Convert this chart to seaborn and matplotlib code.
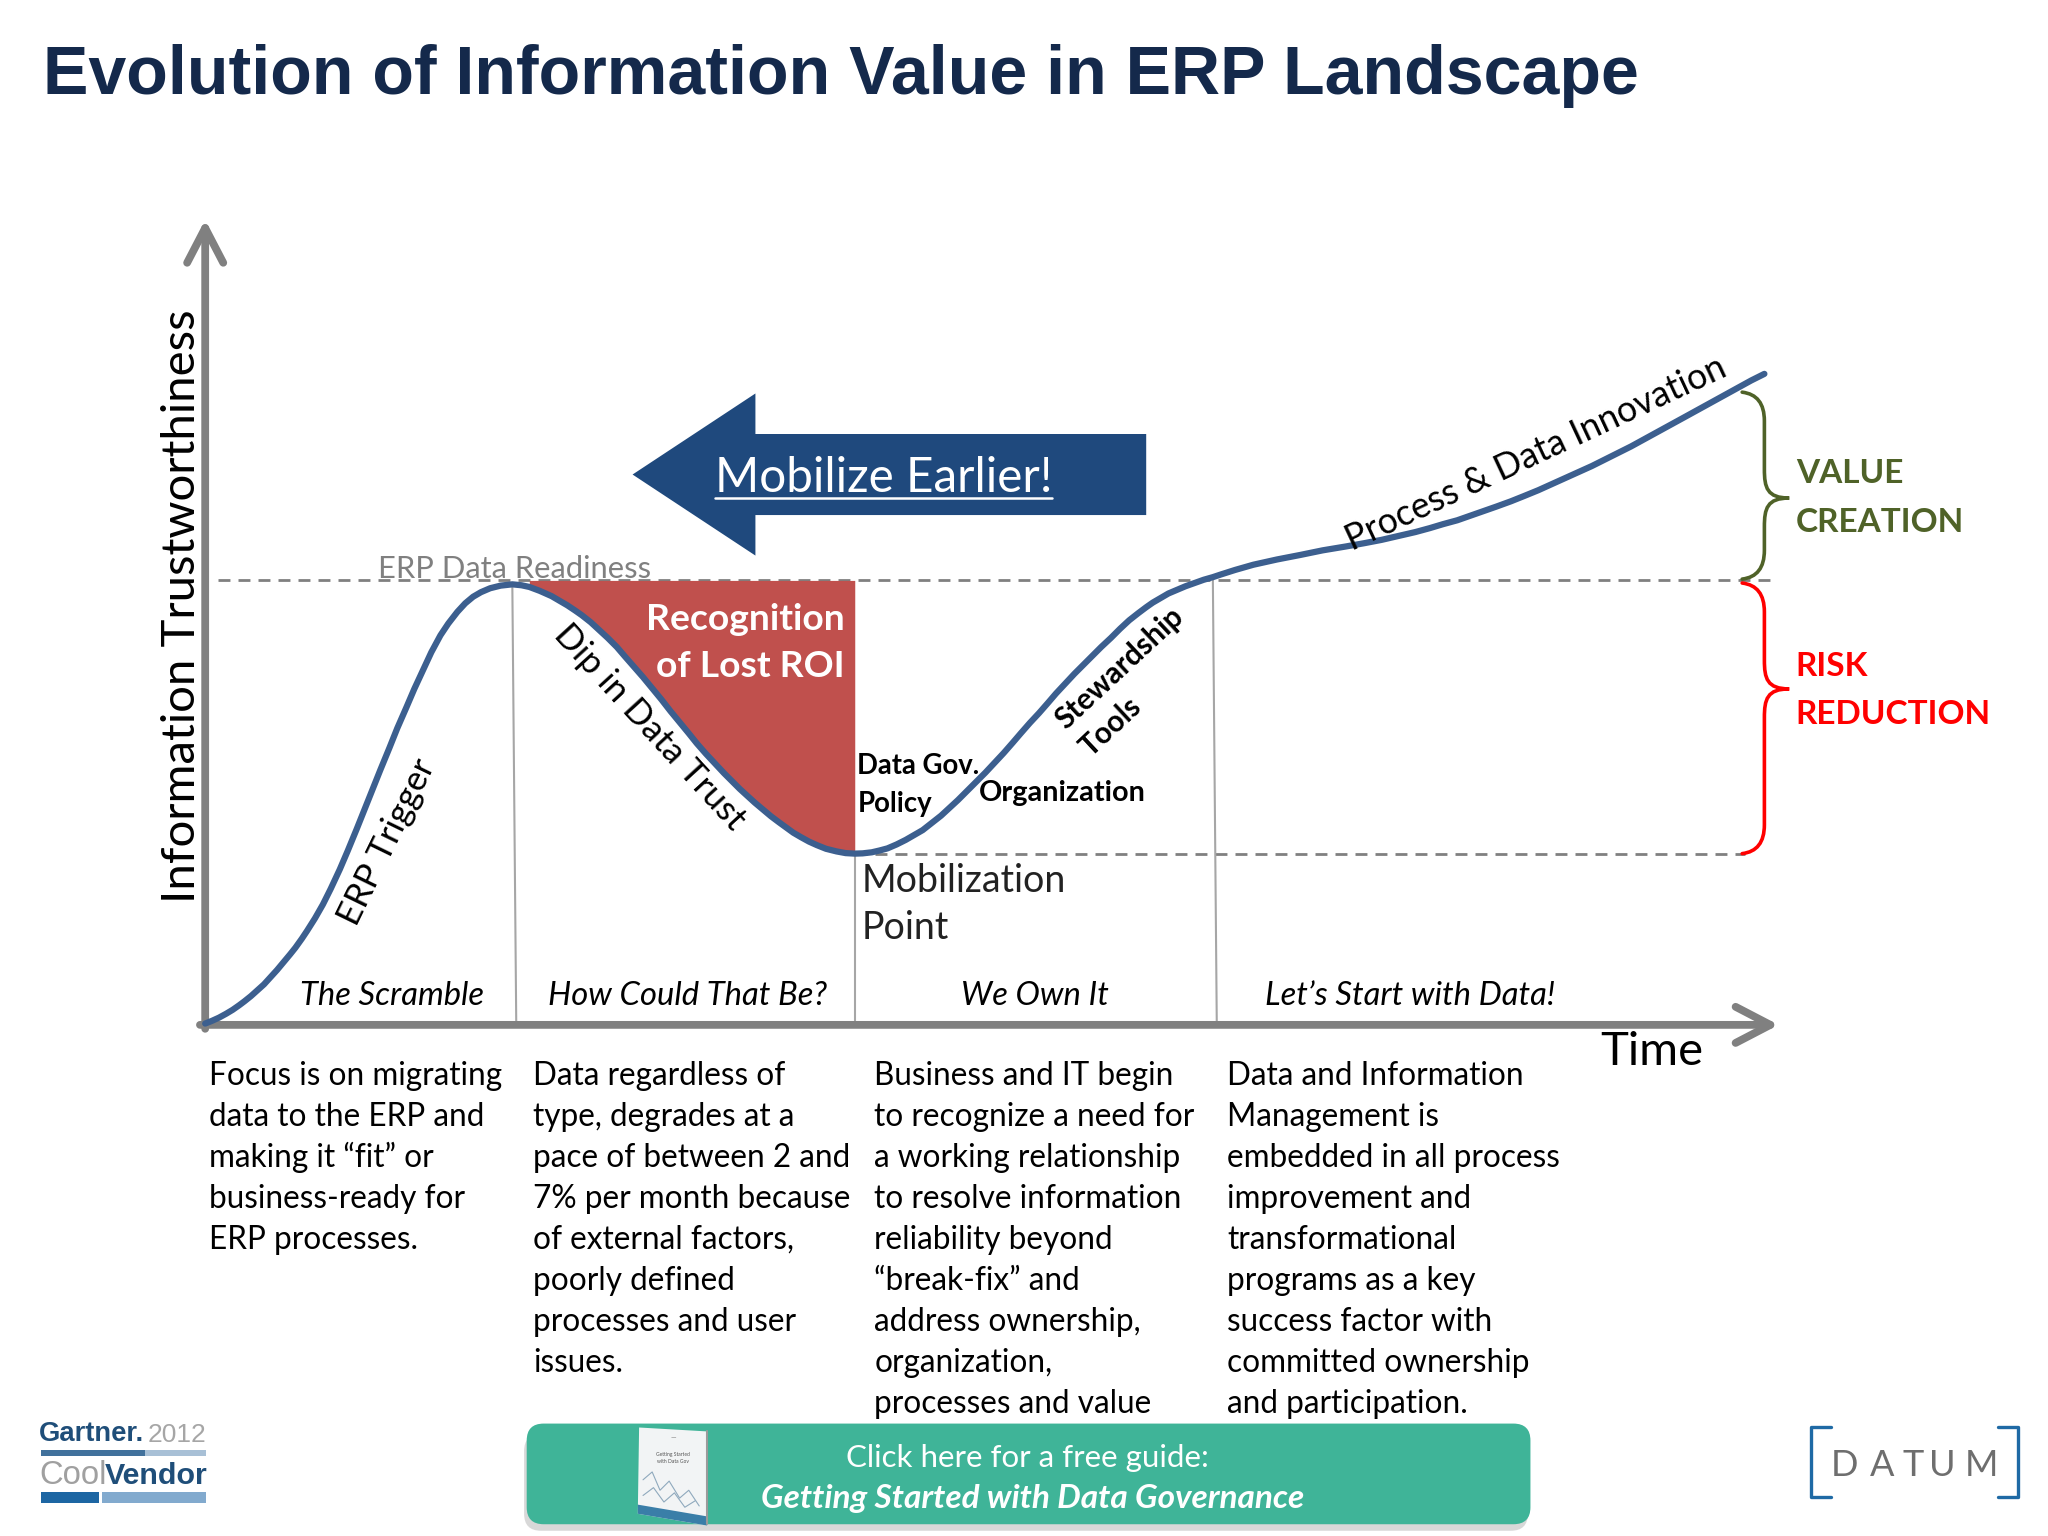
# erp_information_value.py

import matplotlib
matplotlib.use("Agg")
import matplotlib.pyplot as plt
import pandas as pd
import seaborn as sns
from matplotlib.patches import FancyBboxPatch, PathPatch, Polygon, Rectangle
from matplotlib.path import Path

# -----------------------------
# Curve data
# -----------------------------
curve_time = [157, 162, 167.5, 173, 178, 183, 187, 192, 197, 202, 207, 212, 217, 222, 226, 231, 235, 241, 247, 253, 260,
              266, 273, 279, 285, 291, 298, 304, 311, 317, 324, 330, 337, 343, 350, 356, 362, 368, 375, 383, 392,
              399, 405, 413, 422, 428, 434, 440, 445, 452, 458, 465, 472, 478, 485, 492, 499, 506, 513, 520, 527,
              533, 540, 547, 554, 560, 566, 572, 577.5, 584, 590, 596, 601.5, 607, 613, 619, 625, 632, 640, 647, 654,
              660, 667, 673, 679, 686, 693, 699, 706, 713, 720, 726, 733, 740, 747, 754, 761, 768, 775, 781, 788,
              795, 802, 808, 815.5, 822, 829, 836, 842.5, 850, 857, 864, 871, 877, 882, 888, 894, 900, 907, 914, 921,
              928, 934, 945, 959, 977, 995, 1012, 1030, 1044, 1057, 1070, 1083, 1094, 1104, 1115, 1125, 1135, 1145,
              1156, 1166, 1177, 1187, 1197, 1207, 1218, 1228, 1238, 1248, 1259, 1269, 1280, 1290, 1300, 1311, 1321, 1331, 1340, 1350]
curve_trust = [783, 781, 778.5, 775.5, 772.5, 769, 766, 762, 757.5, 753, 747.5, 742, 736, 730, 725, 718, 712, 702.5, 692, 680, 665,
               651, 634, 619, 604, 589, 572, 557, 541, 527, 512, 499, 486, 477, 468, 461.5, 456.5, 453, 450, 448, 447,
               447.7, 449, 452, 456, 459.5, 463, 467, 470.5, 476, 481.5, 488, 495, 502, 510, 518, 526.5, 535, 544, 552.5, 561,
               568.5, 576.5, 584, 591.5, 597.5, 603.5, 609, 614, 619.5, 624.5, 629, 633, 637, 640.5, 643.8, 646.5, 649.3, 651.3, 652.6, 653,
               652.8, 652, 650.6, 649, 646, 642.5, 639, 635, 629.5, 624, 618.5, 612, 605, 598, 591, 583.5, 576, 568, 561, 553,
               545.5, 537.5, 530.5, 522.5, 515.5, 508.5, 501.5, 495, 488, 481, 474.5, 469, 464.5, 461, 457.5, 454, 451.5, 448.5, 446, 443.5,
               441.5, 439.5, 436, 432, 428, 424.5, 421, 418, 415.5, 413, 410, 407, 404, 401, 398, 394.5, 391, 387.5,
               383.5, 379.5, 375, 370.5, 366, 361.5, 356.5, 351.5, 346.5, 341.5, 335.5, 330, 324, 318.5, 313, 307, 301.5, 296, 291, 286]

readiness_level = 444
mobilization_level = 653
phase_tops = [447, 653, 443]
phase_x_top = [392, 654, 928]
phase_x_bottom = [395, 654, 931]

# -----------------------------
# Text
# -----------------------------
title = "Evolution of Information Value in ERP Landscape"
phase_names = ["The Scramble", "How Could That Be?", "We Own It", "Let\u2019s Start with Data!"]
phase_name_x = [300, 526, 792, 1079]
column_x = [160, 408, 669, 939]
column_lines = [
    ["Focus is on migrating", "data to the ERP and", "making it \u201cfit\u201d or", "business-ready for", "ERP processes."],
    ["Data regardless of", "type, degrades at a", "pace of between 2 and", "7% per month because", "of external factors,",
     "poorly defined", "processes and user", "issues."],
    ["Business and IT begin", "to recognize a need for", "a working relationship", "to resolve information", "reliability beyond",
     "\u201cbreak-fix\u201d and", "address ownership,", "organization,", "processes and value"],
    ["Data and Information", "Management is", "embedded in all process", "improvement and", "transformational",
     "programs as a key", "success factor with", "committed ownership", "and participation."],
]

BLUE = "#3c5f8f"
GREY = "#808080"
NAVY = "#1f497d"
OLIVE = "#4f6228"
RED = "#ff0000"
MAROON = "#c0504d"
TEAL = "#3fb498"

# -----------------------------
# Canvas, axes run in picture units
# -----------------------------
sns.set_theme(style="white")
plt.rcParams["font.family"] = ["Lato", "DejaVu Sans"]

fig = plt.figure(figsize=(20.48, 15.36), dpi=100)
ax = fig.add_axes([0, 0, 1, 1])

ax.text(33, 58, title, family="Liberation Sans", weight="bold", fontsize=49.1, color="#14294b", va="center")

# -----------------------------
# Guide lines and axes
# -----------------------------
ax.plot([167, 1358], [readiness_level, readiness_level], color=GREY, lw=2, ls=(0, (4.3, 2.9)), zorder=1)
ax.plot([654, 1335], [mobilization_level, mobilization_level], color=GREY, lw=2, ls=(0, (4.3, 2.9)), zorder=1)
for x0, x1, top in zip(phase_x_top, phase_x_bottom, phase_tops):
    ax.plot([x0, x1], [top, 783], color="#a6a6a6", lw=1.5, zorder=1)

axis_arrow = dict(arrowstyle="->,head_length=1.25,head_width=0.65", mutation_scale=20, color=GREY, lw=5.6,
                  shrinkA=0, shrinkB=0, capstyle="round")
ax.annotate("", xy=(157, 168), xytext=(157, 787), zorder=2, arrowprops=axis_arrow)
ax.annotate("", xy=(1361, 784), xytext=(153, 784), zorder=2, arrowprops=axis_arrow)

# -----------------------------
# Curve and wedge
# -----------------------------
curve = pd.DataFrame({"time": curve_time, "trust": curve_trust})
wedge = curve[(curve["time"] >= 405) & (curve["time"] <= 654)]
ax.fill_between(wedge["time"], wedge["trust"], readiness_level, color=MAROON, lw=0, zorder=2)
sns.lineplot(data=curve, x="time", y="trust", ax=ax, sort=False, estimator=None, color=BLUE, lw=4.5,
             solid_joinstyle="round", zorder=3, legend=False)
ax.set_xlim(0, 1567)
ax.set_ylim(1175, 0)
ax.axis("off")

# -----------------------------
# Mobilize arrow
# -----------------------------
ax.add_patch(Polygon([(484, 363), (578, 301), (578, 332), (877, 332), (877, 394), (578, 394), (578, 425)],
                     closed=True, color=NAVY, lw=0, zorder=2))
ax.text(676, 366, "Mobilize Earlier!", color="white", fontsize=34.3, ha="center", va="center", zorder=4)
ax.plot([547, 805], [381, 381], color="white", lw=1.8, zorder=4)

# -----------------------------
# Braces
# -----------------------------
def brace(y0, y_mid, y1, color):
    x0, xs, xt = 1333, 1350, 1369
    verts = [(x0, y0), (xs, y0 + 2), (xs, y0 + 22), (xs, y_mid - 22), (xs, y_mid - 8), (xs + 2, y_mid), (xt, y_mid),
             (xs + 2, y_mid), (xs, y_mid + 8), (xs, y_mid + 22), (xs, y1 - 22), (xs, y1 - 2), (x0, y1)]
    codes = [Path.MOVETO, Path.CURVE3, Path.CURVE3, Path.LINETO, Path.CURVE4, Path.CURVE4, Path.CURVE4,
             Path.CURVE4, Path.CURVE4, Path.CURVE4, Path.LINETO, Path.CURVE3, Path.CURVE3]
    ax.add_patch(PathPatch(Path(verts, codes), fill=False, edgecolor=color, lw=2.6, zorder=3, capstyle="round"))

brace(300, 381, 443, OLIVE)
brace(446, 527, 653, RED)

ax.text(1374, 362.5, "VALUE", color=OLIVE, weight="bold", fontsize=24, va="center")
ax.text(1374, 399.5, "CREATION", color=OLIVE, weight="bold", fontsize=24, va="center")
ax.text(1374, 509.5, "RISK", color=RED, weight="bold", fontsize=24, va="center")
ax.text(1374, 546.5, "REDUCTION", color=RED, weight="bold", fontsize=24, va="center")

# -----------------------------
# Labels on the chart
# -----------------------------
ax.text(139, 464, "Information Trustworthiness", rotation=90, fontsize=34, color="black", ha="center", va="center")
ax.text(1264, 805, "Time", fontsize=34, color="black", ha="center", va="center")
ax.text(394, 435.5, "ERP Data Readiness", color=GREY, fontsize=22.2, ha="center", va="center")

ax.text(296, 644, "ERP Trigger", rotation=64, fontsize=25, ha="center", va="center", rotation_mode="anchor", color="black")
ax.text(497, 556, "Dip in Data Trust", rotation=-47.5, fontsize=25.4, ha="center", va="center", rotation_mode="anchor", color="black")
ax.text(1175, 347, "Process & Data Innovation", rotation=25, fontsize=25.6, ha="center", va="center", rotation_mode="anchor", color="black")
ax.text(857, 511, "Stewardship", rotation=43, fontsize=21.3, weight="bold", ha="center", va="center", rotation_mode="anchor", color="black")
ax.text(850, 556, "Tools", rotation=43, fontsize=21.3, weight="bold", ha="center", va="center", rotation_mode="anchor", color="black")

ax.text(646, 474, "Recognition", color="white", weight="bold", fontsize=26.8, ha="right", va="center", zorder=4)
ax.text(646, 510, "of Lost ROI", color="white", weight="bold", fontsize=26.8, ha="right", va="center", zorder=4)
ax.text(656, 586, "Data Gov.", weight="bold", fontsize=19.8, va="center", color="black", zorder=4)
ax.text(656, 615, "Policy", weight="bold", fontsize=19.8, va="center", color="black", zorder=4)
ax.text(749, 607, "Organization", weight="bold", fontsize=20.8, va="center", color="black", zorder=4)
ax.text(659, 674, "Mobilization", fontsize=27, va="center", color="#222222")
ax.text(659, 710, "Point", fontsize=27, va="center", color="#222222")

for name, x in zip(phase_names, phase_name_x):
    ax.text(x, 762, name, style="italic", fontsize=23.6, ha="center", va="center", color="black")

# -----------------------------
# Description columns
# -----------------------------
for x, lines in zip(column_x, column_lines):
    for i, line in enumerate(lines):
        ax.text(x, 823 + i * 31.35, line, fontsize=22.7, va="center", color="black", zorder=3)

# -----------------------------
# Guide button
# -----------------------------
ax.add_patch(FancyBboxPatch((401, 1097), 768, 74, boxstyle="round,pad=0,rounding_size=13",
                            facecolor="#cfcfcf", edgecolor="none", zorder=4, alpha=0.8))
ax.add_patch(FancyBboxPatch((403, 1089), 768, 77, boxstyle="round,pad=0,rounding_size=13",
                            facecolor=TEAL, edgecolor="none", zorder=5))
ax.text(786, 1115, "Click here for a free guide:", color="white", fontsize=22.5, ha="center", va="center", zorder=6)
ax.text(790, 1146, "Getting Started with Data Governance", color="white", style="italic", weight="bold",
        fontsize=24, ha="center", va="center", zorder=6)

# book cover
ax.add_patch(Polygon([(489, 1092), (541, 1095), (541, 1167), (488, 1158)], closed=True, color="#f2f4f5", lw=0, zorder=6))
ax.add_patch(Polygon([(488, 1151), (541, 1160), (541, 1167), (488, 1158)], closed=True, color="#3a7ea8", lw=0, zorder=7))
ax.plot([541, 541], [1095, 1166], color="#9a9a9a", lw=1.5, zorder=7)
ax.plot([492, 499, 505, 512, 520, 527, 535], [1132, 1126, 1140, 1133, 1146, 1140, 1152], color="#8fa9bd", lw=0.8, zorder=7)
ax.plot([492, 500, 508, 516, 524, 532], [1144, 1138, 1149, 1142, 1153, 1148], color="#8fa9bd", lw=0.8, zorder=7)
ax.text(515, 1100, "\u2014", fontsize=5, color="#777777", ha="center", va="center", zorder=7)
ax.text(515, 1113, "Getting Started", fontsize=3.6, color="#555555", ha="center", va="center", zorder=7)
ax.text(515, 1118, "with Data Gov", fontsize=3.6, color="#555555", ha="center", va="center", zorder=7)

# -----------------------------
# Gartner logo
# -----------------------------
ax.text(30, 1097, "Gartner.", family="Liberation Sans", weight="bold", fontsize=19.7, color="#1f4e79", va="center")
ax.text(113, 1098, "2012", family="Liberation Sans", fontsize=19, color="#a6a6a6", va="center")
ax.add_patch(Rectangle((31, 1109), 80, 5, color="#41719c", lw=0))
ax.add_patch(Rectangle((111, 1109), 47, 5, color="#a8c0d6", lw=0))
ax.text(30, 1129, "Cool", family="Liberation Sans", fontsize=23.6, color="#a0a0a0", va="center")
ax.text(80, 1129, "Vendor", family="Liberation Sans", weight="bold", fontsize=21.9, color="#1f4e79", va="center")
ax.add_patch(Rectangle((31, 1141), 45, 9, color="#1d66a3", lw=0))
ax.add_patch(Rectangle((78, 1141), 80, 9, color="#82aace", lw=0))

# -----------------------------
# Datum logo
# -----------------------------
ax.plot([1401, 1386, 1386, 1401], [1092, 1092, 1145, 1145], color="#1f6aa5", lw=2.4)
ax.plot([1529, 1544, 1544, 1529], [1092, 1092, 1145, 1145], color="#1f6aa5", lw=2.4)
for letter, x in zip("DATUM", [1411, 1440, 1464, 1486, 1516]):
    ax.text(x, 1121, letter, color="#6e6e6e", fontsize=26, ha="center", va="center")

fig.savefig("out.png", dpi=100)
